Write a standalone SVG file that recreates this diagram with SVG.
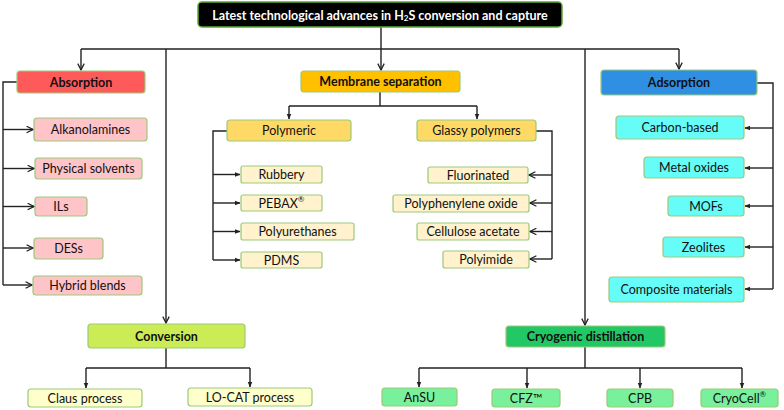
<svg xmlns="http://www.w3.org/2000/svg" width="784" height="410" viewBox="0 0 784 410">
<defs>
<style>
text{font-family:Lato,"Open Sans","Liberation Sans",sans-serif;font-size:12.5px;fill:#111;text-anchor:middle;dominant-baseline:central}
.h{font-weight:bold}
rect{stroke:#9cc97a;stroke-width:1.2}
.ln{fill:none;stroke:#222;stroke-width:1.4}
.red{fill:#ff5a5a}.pink{fill:#ffc4c8}
.org{fill:#ffc000}.yel{fill:#ffd966}.cream{fill:#fff2cc}
.blue{fill:#2f8fe2}.cyan{fill:#66fcf8}
.lime{fill:#ccec55}.lyel{fill:#ffffcc}
.grn{fill:#22c865}.lgrn{fill:#78f09c}
</style>
<marker id="a" viewBox="0 0 10 10" refX="9" refY="5" markerWidth="8" markerHeight="8" markerUnits="userSpaceOnUse" orient="auto">
<path d="M1,1 L9,5 L1,9" fill="none" stroke="#222" stroke-width="1.6"/>
</marker>
<marker id="b" viewBox="0 0 10 10" refX="9" refY="5" markerWidth="6" markerHeight="6" markerUnits="userSpaceOnUse" orient="auto">
<path d="M0,1 L10,5 L0,9 Z" fill="#222"/>
</marker>
</defs>

<g id="connectors">
<path class="ln" d="M381,27 V49 M81,49 H679"/>
<path class="ln" d="M81,49 V70" marker-end="url(#a)"/>
<path class="ln" d="M381,49 V70" marker-end="url(#a)"/>
<path class="ln" d="M679,49 V69" marker-end="url(#a)"/>
<path class="ln" d="M166,49 V323" marker-end="url(#a)"/>
<path class="ln" d="M585,49 V325" marker-end="url(#a)"/>
<!-- absorption -->
<path class="ln" d="M17,82 H3 V285"/>
<path class="ln" d="M3,129.5 H33" marker-end="url(#a)"/>
<path class="ln" d="M3,168.5 H34" marker-end="url(#a)"/>
<path class="ln" d="M3,206.5 H34" marker-end="url(#a)"/>
<path class="ln" d="M3,248 H33" marker-end="url(#a)"/>
<path class="ln" d="M3,285 H32" marker-end="url(#a)"/>
<!-- membrane -->
<path class="ln" d="M380,92 V106 M289,106 H477"/>
<path class="ln" d="M289,106 V119" marker-end="url(#b)"/>
<path class="ln" d="M477,106 V119" marker-end="url(#b)"/>
<path class="ln" d="M227,131 H213 V260"/>
<path class="ln" d="M213,174.5 H240" marker-end="url(#b)"/>
<path class="ln" d="M213,203 H240" marker-end="url(#b)"/>
<path class="ln" d="M213,231.5 H240" marker-end="url(#b)"/>
<path class="ln" d="M213,260 H240" marker-end="url(#b)"/>
<path class="ln" d="M536,131 H552 V259"/>
<path class="ln" d="M552,175 H529" marker-end="url(#a)"/>
<path class="ln" d="M552,203 H530" marker-end="url(#a)"/>
<path class="ln" d="M552,231.5 H530" marker-end="url(#a)"/>
<path class="ln" d="M552,259 H530" marker-end="url(#a)"/>
<!-- adsorption -->
<path class="ln" d="M757,83 H773 V289"/>
<path class="ln" d="M773,128 H745" marker-end="url(#b)"/>
<path class="ln" d="M773,168 H745" marker-end="url(#b)"/>
<path class="ln" d="M773,206 H745" marker-end="url(#b)"/>
<path class="ln" d="M773,247 H745" marker-end="url(#b)"/>
<path class="ln" d="M773,289 H745" marker-end="url(#b)"/>
<!-- conversion -->
<path class="ln" d="M166,348 V368 M86,368 H250"/>
<path class="ln" d="M86,368 V388" marker-end="url(#b)"/>
<path class="ln" d="M250,368 V387" marker-end="url(#b)"/>
<!-- cryogenic -->
<path class="ln" d="M585,347 V368 M419,368 H742"/>
<path class="ln" d="M419,368 V387" marker-end="url(#b)"/>
<path class="ln" d="M527,368 V388" marker-end="url(#b)"/>
<path class="ln" d="M640,368 V388" marker-end="url(#b)"/>
<path class="ln" d="M742,368 V388" marker-end="url(#b)"/>
</g>

<g id="title">
<rect x="198" y="2" width="364" height="25" rx="4" fill="#000" style="stroke:#5aa83a;stroke-width:1.5"/>
<text x="380" y="15" class="h" style="fill:#fff;font-size:12.5px">Latest technological advances in H<tspan font-size="8" dy="3">2</tspan><tspan dy="-3">S conversion and capture</tspan></text>
</g>

<g id="absorption"><rect class="red" x="17" y="71" width="128" height="22" rx="3"/><text class="h" x="81" y="82">Absorption</text></g>
<g id="alkanolamines"><rect class="pink" x="34" y="118" width="113" height="23" rx="3"/><text x="90.5" y="129.5">Alkanolamines</text></g>
<g id="physical-solvents"><rect class="pink" x="35" y="158" width="107" height="21" rx="3"/><text x="88.5" y="168.5">Physical solvents</text></g>
<g id="ils"><rect class="pink" x="35" y="197" width="52" height="19" rx="3"/><text x="61" y="206.5">ILs</text></g>
<g id="dess"><rect class="pink" x="34" y="238" width="69" height="21" rx="3"/><text x="68.5" y="248.5">DESs</text></g>
<g id="hybrid-blends"><rect class="pink" x="33" y="276" width="109" height="19" rx="3"/><text x="87.5" y="285.5">Hybrid blends</text></g>

<g id="membrane"><rect class="org" x="301" y="71" width="159" height="21" rx="3"/><text class="h" x="380.5" y="81.5">Membrane separation</text></g>
<g id="polymeric"><rect class="yel" x="227" y="120" width="124" height="21" rx="3"/><text x="289" y="130.5">Polymeric</text></g>
<g id="glassy"><rect class="yel" x="417" y="120" width="119" height="21" rx="3"/><text x="476.5" y="130.5">Glassy polymers</text></g>
<g id="rubbery"><rect class="cream" x="241" y="166" width="81" height="17" rx="2"/><text x="281.5" y="174.5">Rubbery</text></g>
<g id="pebax"><rect class="cream" x="241" y="195" width="81" height="16" rx="2"/><text x="281.5" y="203">PEBAX<tspan font-size="8" dy="-4">®</tspan></text></g>
<g id="polyurethanes"><rect class="cream" x="241" y="223" width="113" height="17" rx="2"/><text x="297.5" y="231.5">Polyurethanes</text></g>
<g id="pdms"><rect class="cream" x="241" y="252" width="81" height="16" rx="2"/><text x="281.5" y="260">PDMS</text></g>
<g id="fluorinated"><rect class="cream" x="428" y="167" width="100" height="16" rx="2"/><text x="478" y="175">Fluorinated</text></g>
<g id="ppo"><rect class="cream" x="393" y="195" width="136" height="17" rx="2"/><text x="461" y="203.5">Polyphenylene oxide</text></g>
<g id="cellulose"><rect class="cream" x="417" y="223" width="112" height="17" rx="2"/><text x="473" y="231.5">Cellulose acetate</text></g>
<g id="polyimide"><rect class="cream" x="443" y="251" width="86" height="17" rx="2"/><text x="486" y="259.5">Polyimide</text></g>

<g id="adsorption"><rect class="blue" x="601" y="70" width="156" height="25" rx="3"/><text class="h" x="679" y="82.5">Adsorption</text></g>
<g id="carbon"><rect class="cyan" x="616" y="116" width="128" height="23" rx="3"/><text x="680" y="127.5">Carbon-based</text></g>
<g id="metal-oxides"><rect class="cyan" x="644" y="157" width="100" height="21" rx="3"/><text x="694" y="167.5">Metal oxides</text></g>
<g id="mofs"><rect class="cyan" x="668" y="196" width="76" height="20" rx="3"/><text x="706" y="206">MOFs</text></g>
<g id="zeolites"><rect class="cyan" x="663" y="237" width="81" height="20" rx="3"/><text x="703.5" y="247">Zeolites</text></g>
<g id="composite"><rect class="cyan" x="609" y="277" width="135" height="25" rx="3"/><text x="676.5" y="289.5">Composite materials</text></g>

<g id="conversion"><rect class="lime" x="88" y="324" width="157" height="24" rx="3"/><text class="h" x="166.5" y="336">Conversion</text></g>
<g id="claus"><rect class="lyel" x="28" y="389" width="114" height="18" rx="3"/><text x="85" y="398">Claus process</text></g>
<g id="locat"><rect class="lyel" x="188" y="388" width="124" height="18" rx="3"/><text x="250" y="397">LO-CAT process</text></g>

<g id="cryogenic"><rect class="grn" x="506" y="326" width="159" height="21" rx="3"/><text class="h" x="585.5" y="336.5">Cryogenic distillation</text></g>
<g id="ansu"><rect class="lgrn" x="382" y="388" width="75" height="18" rx="3"/><text x="419.5" y="397">AnSU</text></g>
<g id="cfz"><rect class="lgrn" x="492" y="389" width="68" height="18" rx="3"/><text x="526" y="398">CFZ™</text></g>
<g id="cpb"><rect class="lgrn" x="607" y="389" width="66" height="18" rx="3"/><text x="640" y="398">CPB</text></g>
<g id="cryocell"><rect class="lgrn" x="701" y="389" width="77" height="18" rx="3"/><text x="739.5" y="398">CryoCell<tspan font-size="8" dy="-4">®</tspan></text></g>
</svg>
